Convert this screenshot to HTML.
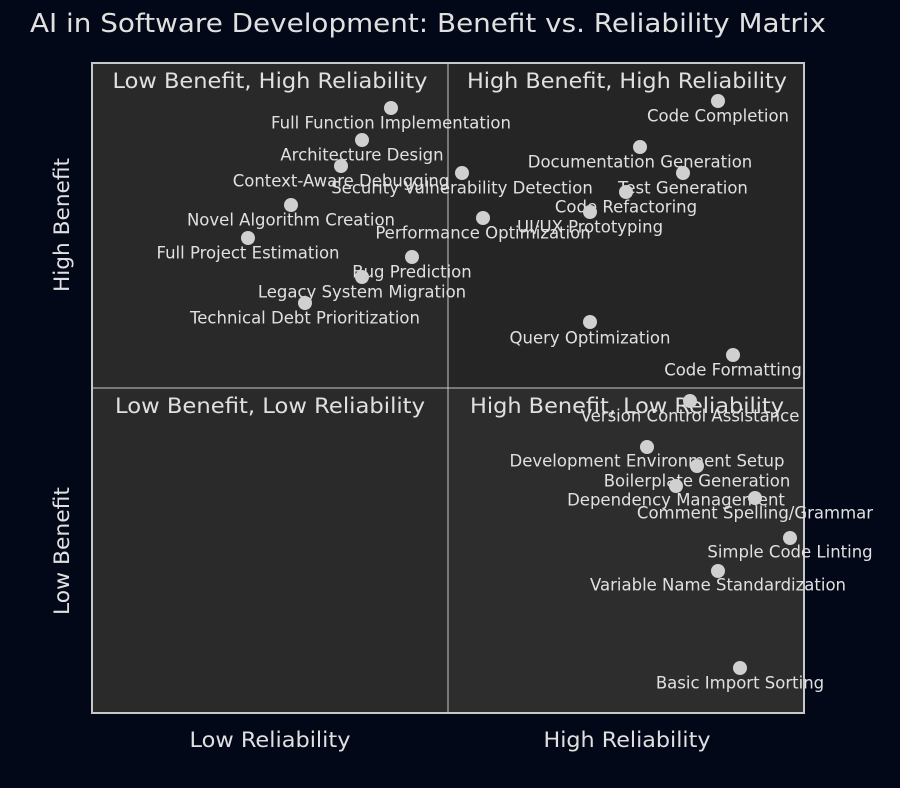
<!DOCTYPE html>
<html><head><meta charset="utf-8"><style>
html,body{margin:0;padding:0;background:#020817;}
svg{display:block;}
text{font-family:"DejaVu Sans","Liberation Sans",sans-serif;fill:#e0e0e0;}
.p{font-size:16.5px;text-anchor:middle;dominant-baseline:middle;}
.q{font-size:21px;text-anchor:middle;dominant-baseline:middle;}
circle{fill:#d0d0d0;}
</style></head><body>
<svg width="900" height="788" viewBox="0 0 900 788">
<rect width="900" height="788" fill="#020817"/>
<text x="30" y="32" font-size="26" textLength="796" lengthAdjust="spacingAndGlyphs">AI in Software Development: Benefit vs. Reliability Matrix</text>
<rect x="92" y="63" width="356" height="325" fill="#292929"/>
<rect x="448" y="63" width="356" height="325" fill="#252525"/>
<rect x="92" y="388" width="356" height="325" fill="#2a2a2a"/>
<rect x="448" y="388" width="356" height="325" fill="#2d2d2d"/>
<rect x="92" y="63" width="712" height="650" fill="none" stroke="#c8c8c8" stroke-width="2"/>
<line x1="448" y1="63" x2="448" y2="713" stroke="#c8c8c8" stroke-width="1"/>
<line x1="92" y1="388" x2="804" y2="388" stroke="#c8c8c8" stroke-width="1"/>
<text class="q" x="270" y="82" textLength="315" lengthAdjust="spacingAndGlyphs">Low Benefit, High Reliability</text>
<text class="q" x="627" y="82" textLength="320" lengthAdjust="spacingAndGlyphs">High Benefit, High Reliability</text>
<text class="q" x="270" y="407" textLength="310" lengthAdjust="spacingAndGlyphs">Low Benefit, Low Reliability</text>
<text class="q" x="627" y="407" textLength="314" lengthAdjust="spacingAndGlyphs">High Benefit, Low Reliability</text>
<text class="q" x="270" y="741" textLength="161" lengthAdjust="spacingAndGlyphs">Low Reliability</text>
<text class="q" x="627" y="741" textLength="167" lengthAdjust="spacingAndGlyphs">High Reliability</text>
<text class="q" transform="translate(63,225) rotate(-90)" textLength="134" lengthAdjust="spacingAndGlyphs">High Benefit</text>
<text class="q" transform="translate(63,551) rotate(-90)" textLength="128" lengthAdjust="spacingAndGlyphs">Low Benefit</text>

<circle cx="718" cy="101" r="7"/><text class="p" x="718" y="117">Code Completion</text>
<circle cx="391" cy="108" r="7"/><text class="p" x="391" y="124">Full Function Implementation</text>
<circle cx="362" cy="140" r="7"/><text class="p" x="362" y="156">Architecture Design</text>
<circle cx="640" cy="147" r="7"/><text class="p" x="640" y="163">Documentation Generation</text>
<circle cx="341" cy="166" r="7"/><text class="p" x="341" y="182">Context-Aware Debugging</text>
<circle cx="462" cy="173" r="7"/><text class="p" x="462" y="189">Security Vulnerability Detection</text>
<circle cx="683" cy="173" r="7"/><text class="p" x="683" y="189">Test Generation</text>
<circle cx="291" cy="205" r="7"/><text class="p" x="291" y="221">Novel Algorithm Creation</text>
<circle cx="626" cy="192" r="7"/><text class="p" x="626" y="208">Code Refactoring</text>
<circle cx="590" cy="212" r="7"/><text class="p" x="590" y="228">UI/UX Prototyping</text>
<circle cx="483" cy="218" r="7"/><text class="p" x="483" y="234">Performance Optimization</text>
<circle cx="248" cy="238" r="7"/><text class="p" x="248" y="254">Full Project Estimation</text>
<circle cx="412" cy="257" r="7"/><text class="p" x="412" y="273">Bug Prediction</text>
<circle cx="362" cy="277" r="7"/><text class="p" x="362" y="293">Legacy System Migration</text>
<circle cx="305" cy="303" r="7"/><text class="p" x="305" y="319">Technical Debt Prioritization</text>
<circle cx="590" cy="322" r="7"/><text class="p" x="590" y="339">Query Optimization</text>
<circle cx="733" cy="355" r="7"/><text class="p" x="733" y="371">Code Formatting</text>
<circle cx="690" cy="401" r="7"/><text class="p" x="690" y="417">Version Control Assistance</text>
<circle cx="647" cy="447" r="7"/><text class="p" x="647" y="462">Development Environment Setup</text>
<circle cx="697" cy="466" r="7"/><text class="p" x="697" y="482">Boilerplate Generation</text>
<circle cx="676" cy="486" r="7"/><text class="p" x="676" y="501">Dependency Management</text>
<circle cx="755" cy="498" r="7"/><text class="p" x="755" y="514">Comment Spelling/Grammar</text>
<circle cx="790" cy="538" r="7"/><text class="p" x="790" y="553">Simple Code Linting</text>
<circle cx="718" cy="571" r="7"/><text class="p" x="718" y="586">Variable Name Standardization</text>
<circle cx="740" cy="668" r="7"/><text class="p" x="740" y="684">Basic Import Sorting</text>
</svg>
</body></html>
